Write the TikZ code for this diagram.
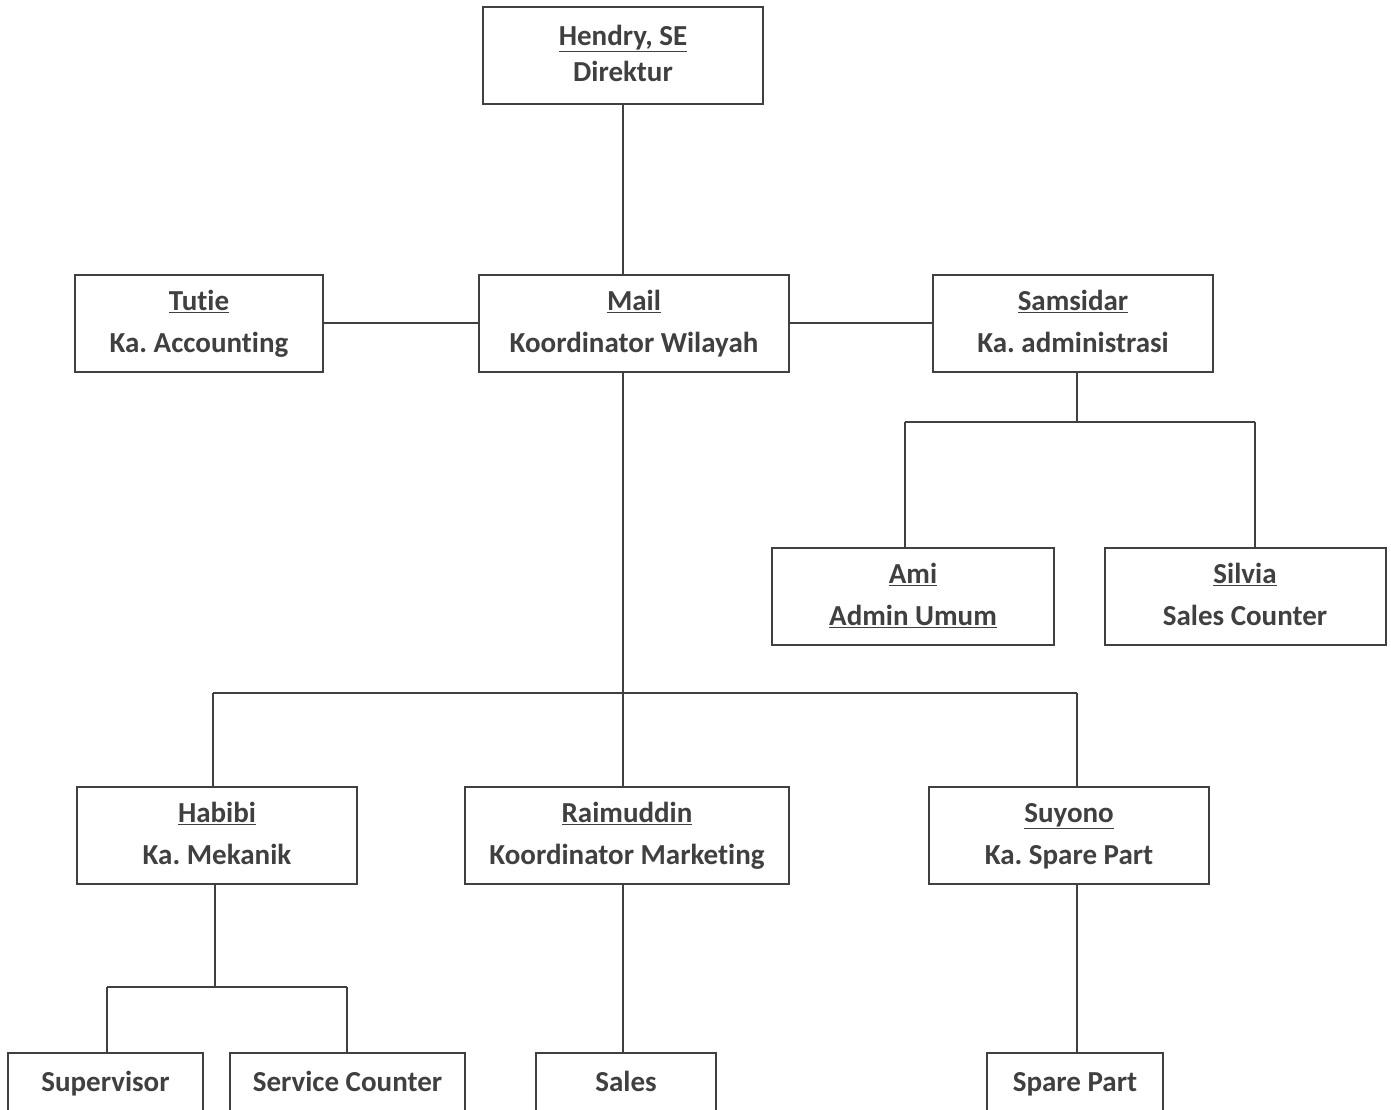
\documentclass[tikz,border=0pt]{standalone}
\usepackage{fontspec}
\setmainfont[Ligatures=NoCommon]{Carlito}
\frenchspacing
\usepackage{tikz}
\definecolor{ink}{HTML}{404040}
\tikzset{box/.style={draw=ink, line width=2pt, text=ink, font=\bfseries\fontsize{29}{42}\selectfont, align=center, minimum height=97pt, inner sep=0pt}}
\tikzset{line/.style={ink, line width=2pt}}

\begin{document}
\begin{tikzpicture}[x=1pt, y=-1pt]
\clip (0,0) rectangle (1391,1110);
\fill[white] (0,0) rectangle (1391,1110);
% boxes
\node[box, minimum width=280pt, font=\bfseries\fontsize{29}{36}\selectfont] (hendry) at (623,56) {\strut\underline{Hendry, SE}\\Direktur\strut};
\node[box, minimum width=248pt] (tutie) at (199,323) {\strut\underline{Tutie}\\Ka. Accounting\strut};
\node[box, minimum width=310pt] (mail) at (634,323) {\strut\underline{Mail}\\Koordinator Wilayah\strut};
\node[box, minimum width=280pt] (samsidar) at (1073,323) {\strut\underline{Samsidar}\\Ka. administrasi\strut};
\node[box, minimum width=282pt] (ami) at (913,596) {\strut\underline{Ami}\\\underline{Admin Umum}\strut};
\node[box, minimum width=281pt] (silvia) at (1245,596) {\strut\underline{Silvia}\\Sales Counter\strut};
\node[box, minimum width=280pt] (habibi) at (217,835) {\strut\underline{Habibi}\\Ka. Mekanik\strut};
\node[box, minimum width=324pt] (raimuddin) at (627,835) {\strut\underline{Raimuddin}\\Koordinator Marketing\strut};
\node[box, minimum width=280pt] (suyono) at (1069,835) {\strut\underline{Suyono}\\Ka. Spare Part\strut};
\node[box, minimum width=195pt, minimum height=60pt] (supervisor) at (105.5,1083) {\strut Supervisor};
\node[box, minimum width=235pt, minimum height=60pt] (service) at (347.5,1083) {\strut Service Counter};
\node[box, minimum width=180pt, minimum height=60pt] (sales) at (626,1083) {\strut Sales};
\node[box, minimum width=176pt, minimum height=60pt] (sparepart) at (1075,1083) {\strut Spare Part};
% junctions
\coordinate (top) at (623,104);
\coordinate (barL) at (213,693);
\coordinate (barM) at (623,693);
\coordinate (barR) at (1077,693);
\coordinate (admL) at (905,422);
\coordinate (admM) at (1077,422);
\coordinate (admR) at (1255,422);
\coordinate (mekL) at (107,987);
\coordinate (mekM) at (215,987);
\coordinate (mekR) at (347,987);
% connectors
\draw[line] (top) -- (top |- mail.north);
\draw[line] (tutie.east) -- (mail.west);
\draw[line] (mail.east) -- (samsidar.west);
\draw[line] (barM |- mail.south) -- (barM);
\draw[line] (barL) -- (barR);
\draw[line] (barL) -- (barL |- habibi.north);
\draw[line] (barM) -- (barM |- raimuddin.north);
\draw[line] (barR) -- (barR |- suyono.north);
\draw[line] (admM |- samsidar.south) -- (admM);
\draw[line] (admL) -- (admR);
\draw[line] (admL) -- (admL |- ami.north);
\draw[line] (admR) -- (admR |- silvia.north);
\draw[line] (mekM |- habibi.south) -- (mekM);
\draw[line] (mekL) -- (mekR);
\draw[line] (mekL) -- (mekL |- supervisor.north);
\draw[line] (mekR) -- (mekR |- service.north);
\draw[line] (barM |- raimuddin.south) -- (barM |- sales.north);
\draw[line] (barR |- suyono.south) -- (barR |- sparepart.north);
\end{tikzpicture}
\end{document}
